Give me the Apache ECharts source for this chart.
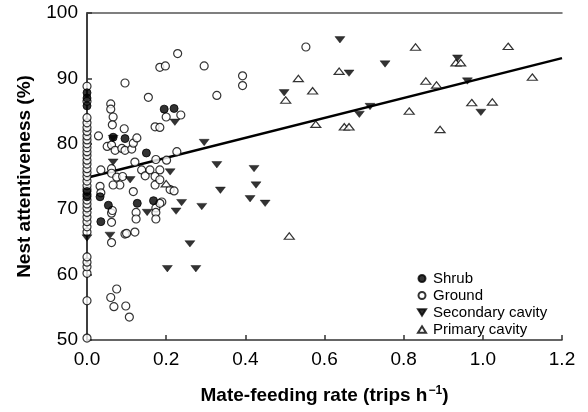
<!DOCTYPE html>
<html lang="en">
<head>
    <meta charset="UTF-8">
    <title>Nest attentiveness</title>
    <style>
        *{ padding:0; margin:0; }
        html, body{ width:100%; height:100%; background:#fff; }
        #main{ width:588px; height:412px; }
    </style>
    <script src="https://cdn.jsdelivr.net/npm/echarts@6/dist/echarts.min.js"></script>
</head>
<body>
<div id="main"></div>
<script>
    // [mate-feeding rate, nest attentiveness]
    var shrub = [
        [0, 87.8], [0, 87], [0, 85.8], [0, 72.7], [0, 71.9], [0.033, 71.9], [0.035, 68.1],
        [0.054, 70.6], [0.066, 81], [0.096, 80.8], [0.127, 70.9], [0.15, 78.6], [0.168, 71.3],
        [0.195, 85.3], [0.22, 85.4]
    ];
    var ground = [
        [0, 50.3], [0, 56], [0, 60.2], [0, 61.2], [0, 61.9], [0, 62.7], [0, 66.5], [0, 67.3],
        [0, 68.1], [0, 68.8], [0, 69.5], [0, 70.2], [0, 70.8], [0, 71.4], [0, 72.2], [0, 73],
        [0, 73.6], [0, 74.3], [0, 75], [0, 75.6], [0, 76.2], [0, 76.9], [0, 77.5], [0, 78.2],
        [0, 78.8], [0, 79.4], [0, 80], [0, 80.6], [0, 81.2], [0, 81.9], [0, 82.5], [0, 83.2],
        [0, 84], [0, 86.5], [0, 88.8],
        [0.029, 81.2], [0.033, 73.5], [0.035, 72.5], [0.035, 76], [0.051, 79.6], [0.06, 86.1],
        [0.06, 85.3], [0.066, 84.1], [0.064, 82.9], [0.062, 79.8], [0.071, 79], [0.062, 76.2],
        [0.062, 75.5], [0.075, 74.9], [0.083, 73.7], [0.066, 73.7], [0.09, 75], [0.062, 69.4],
        [0.064, 69.8], [0.062, 68], [0.062, 64.9], [0.075, 57.8], [0.06, 56.5], [0.068, 55.1],
        [0.088, 79.3], [0.096, 79], [0.096, 89.3], [0.094, 82.3], [0.098, 55.2], [0.107, 53.5],
        [0.096, 66.2], [0.1, 66.3], [0.113, 79.2], [0.117, 80.1], [0.121, 66.5], [0.124, 69.5],
        [0.124, 68.5], [0.117, 72.7], [0.126, 80.9], [0.121, 77.2], [0.138, 76], [0.147, 75.1],
        [0.159, 76], [0.155, 87.1], [0.172, 82.6], [0.184, 82.5], [0.174, 77.6], [0.172, 75],
        [0.172, 73.7], [0.184, 76], [0.184, 74.5], [0.174, 70.2], [0.174, 69.5], [0.174, 68.5],
        [0.189, 71.1], [0.184, 70.9], [0.184, 91.7], [0.198, 91.9], [0.2, 84.1], [0.201, 77.5],
        [0.227, 78.8], [0.237, 84.4], [0.229, 93.8], [0.21, 73], [0.22, 72.8], [0.296, 91.9],
        [0.328, 87.4], [0.393, 90.4], [0.393, 88.9], [0.553, 94.8]
    ];
    var secondary = [
        [0, 65.6], [0.058, 66], [0.066, 80.8], [0.066, 77.2], [0.109, 74.5], [0.152, 69.5],
        [0.203, 60.9], [0.21, 75.7], [0.222, 83.3], [0.225, 69.7], [0.239, 71], [0.26, 64.7],
        [0.275, 60.9], [0.29, 70.4], [0.296, 80.2], [0.328, 76.8], [0.337, 72.9], [0.412, 71.6],
        [0.422, 76.2], [0.427, 73.7], [0.45, 70.9], [0.498, 87.8], [0.639, 95.9], [0.662, 90.8],
        [0.688, 84.5], [0.715, 85.7], [0.753, 92.2], [0.936, 93.1], [0.961, 89.6], [0.995, 84.8]
    ];
    var primary = [
        [0.2, 73.9], [0.502, 86.7], [0.511, 65.9], [0.534, 90], [0.57, 88.1], [0.578, 83],
        [0.637, 91.1], [0.65, 82.6], [0.662, 82.6], [0.814, 85], [0.83, 94.8], [0.856, 89.6],
        [0.883, 89], [0.892, 82.2], [0.932, 92.4], [0.944, 92.4], [0.972, 86.3], [1.024, 86.4],
        [1.064, 94.9], [1.125, 90.2]
    ];
    // regression line end points
    var fitLine = [[0, 74.8], [1.2, 93.1]];

    var legendNames = ['Shrub', 'Ground', 'Secondary cavity', 'Primary cavity'];
    var font = 'Liberation Sans, Arial, Helvetica, sans-serif';
    var axisColor = '#333';

    var downTri = 'path://M0,0 L10,0 L5,8 Z';
    var upTri = 'path://M5,0 L10,8 L0,8 Z';

    var myChart = echarts.init(document.getElementById('main'));

    var option = {
        backgroundColor: '#fff',
        animation: false,
        textStyle: { fontFamily: font },
        grid: { left: 87, right: 26, top: 13, bottom: 72 },
        legend: {
            data: legendNames,
            orient: 'vertical',
            left: 412,
            top: 265,
            itemWidth: 8,
            itemHeight: 7,
            itemGap: 0,
            textStyle: { fontSize: 15, color: '#000', lineHeight: 17, padding: [0, 0, 0, 2], fontFamily: font }
        },
        xAxis: [{
            type: 'value',
            min: 0, max: 1.2, interval: 0.2,
            name: 'Mate-feeding rate (trips h{sup|\u22121})',
            nameLocation: 'middle',
            nameGap: 45,
            nameTextStyle: {
                fontSize: 19, fontWeight: 'bold', color: '#000', fontFamily: font,
                rich: { sup: { fontSize: 12, fontWeight: 'bold', color: '#000', verticalAlign: 'top', padding: [0, 0, 9, 1] } }
            },
            axisLine: { lineStyle: { color: axisColor, width: 1.5 } },
            axisTick: { inside: true, length: 5, lineStyle: { color: axisColor, width: 1.5 } },
            axisLabel: { fontSize: 19, color: '#000', margin: 10, formatter: function (v) { return v.toFixed(1); } },
            splitLine: { show: false }
        }, {
            type: 'value', position: 'top',
            min: 0, max: 1.2,
            axisLine: { show: true, lineStyle: { color: '#555', width: 1.5 } },
            axisTick: { show: false }, axisLabel: { show: false }, splitLine: { show: false }
        }],
        yAxis: [{
            type: 'value',
            min: 50, max: 100, interval: 10,
            name: 'Nest attentiveness (%)',
            nameLocation: 'middle',
            nameGap: 53,
            nameTextStyle: { fontSize: 19, fontWeight: 'bold', color: '#000', fontFamily: font },
            axisLine: { show: true, lineStyle: { color: axisColor, width: 1.5 } },
            axisTick: { show: true, inside: true, length: 5, lineStyle: { color: axisColor, width: 1.5 } },
            axisLabel: { fontSize: 19, color: '#000', margin: 9 },
            splitLine: { show: false }
        }, {
            type: 'value', position: 'right',
            min: 50, max: 100,
            axisLine: { show: true, lineStyle: { color: axisColor, width: 1.5 } },
            axisTick: { show: false }, axisLabel: { show: false }, splitLine: { show: false }
        }],
        series: [
            {
                name: 'Ground', type: 'scatter', data: ground,
                symbol: 'circle', symbolSize: 8,
                itemStyle: { color: '#fff', borderColor: '#000', borderWidth: 1.2 }
            },
            {
                name: 'Primary cavity', type: 'scatter', data: primary,
                symbol: upTri, symbolSize: [10, 8], symbolKeepAspect: true,
                itemStyle: { color: '#fff', borderColor: '#000', borderWidth: 1.2 }
            },
            {
                name: 'Secondary cavity', type: 'scatter', data: secondary,
                symbol: downTri, symbolSize: [10, 8], symbolKeepAspect: true,
                itemStyle: { color: '#000', borderColor: '#000', borderWidth: 0.5 }
            },
            {
                name: 'Shrub', type: 'scatter', data: shrub,
                symbol: 'circle', symbolSize: 8,
                itemStyle: { color: '#000', borderColor: '#000', borderWidth: 1 }
            },
            {
                name: 'fit', type: 'line', data: fitLine,
                showSymbol: false, silent: true,
                lineStyle: { color: '#000', width: 2.5 },
                z: 1
            }
        ]
    };
    myChart.setOption(option);
</script>
</body>
</html>
